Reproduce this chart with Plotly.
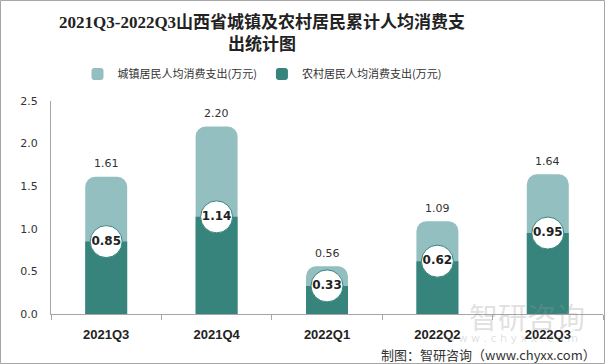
import plotly.graph_objects as go

categories = ["2021Q3", "2021Q4", "2022Q1", "2022Q2", "2022Q3"]
urban = [1.61, 2.20, 0.56, 1.09, 1.64]
rural = [0.85, 1.14, 0.33, 0.62, 0.95]
y_ticks = [0.0, 0.5, 1.0, 1.5, 2.0, 2.5]

LIGHT = "#93bfc0"
DARK = "#37847d"
TXT = "#333333"

L, R, T, B = 51, 2, 101, 50
PW, PH = 605 - L - R, 364 - T - B  # plot area size in px


def px(x):
    return (x - L) / PW


def py(y):
    return (364 - B - y) / PH


fig = go.Figure()
fig.add_trace(go.Bar(
    x=categories, y=urban, name="城镇居民人均消费支出(万元)",
    marker=dict(color=LIGHT, line=dict(width=0)), width=0.38,
))
fig.add_trace(go.Bar(
    x=categories, y=rural, name="农村居民人均消费支出(万元)",
    marker=dict(color=DARK, line=dict(width=0)), width=0.38,
))
fig.add_trace(go.Scatter(
    x=categories, y=rural, mode="markers+text",
    text=[f"{v:.2f}" for v in rural], textposition="middle center",
    textfont=dict(size=12, color="#222222", family="DejaVu Sans, Noto Sans CJK SC", weight="bold"),
    marker=dict(size=32, color="white", line=dict(color=DARK, width=1)),
    showlegend=False, hoverinfo="skip", cliponaxis=False,
))

annotations = []
for c, v in zip(categories, urban):
    annotations.append(dict(
        x=c, y=v, text=f"{v:.2f}", showarrow=False, yshift=13,
        font=dict(size=11, color=TXT, family="DejaVu Sans, Noto Sans CJK SC"),
    ))

# title
annotations.append(dict(
    xref="paper", yref="paper", x=px(262), y=py(33),
    xanchor="center", yanchor="middle", showarrow=False,
    text="2021Q3-2022Q3山西省城镇及农村居民累计人均消费支<br>出统计图",
    font=dict(size=17, color="#222222", family="Liberation Serif, Noto Sans CJK SC", weight="bold"),
))

annotations.append(dict(
    xref="paper", yref="paper", x=px(598), y=py(354),
    xanchor="right", yanchor="middle", showarrow=False,
    text="制图：智研咨询（www.chyxx.com）",
    font=dict(size=13, color=TXT, family="Noto Sans CJK SC"),
))
annotations.append(dict(
    xref="paper", yref="paper", x=px(527), y=py(316),
    xanchor="center", yanchor="middle", showarrow=False,
    text="智研咨询",
    font=dict(size=29, color="rgba(150,150,150,0.3)", family="Noto Sans CJK SC"),
))
annotations.append(dict(
    xref="paper", yref="paper", x=px(512), y=py(338),
    xanchor="center", yanchor="middle", showarrow=False,
    text="w w w . c h y x x . c o m",
    font=dict(size=11, color="rgba(150,150,150,0.3)", family="DejaVu Sans"),
))

fig.update_layout(
    width=605, height=364,
    margin=dict(l=L, r=R, t=T, b=B),
    paper_bgcolor="white", plot_bgcolor="white",
    barmode="overlay", barcornerradius=10,
    legend=dict(
        orientation="h", x=px(262), xanchor="center",
        y=py(74), yanchor="middle",
        font=dict(size=11, color=TXT, family="Noto Sans CJK SC"),
        itemwidth=30, tracegroupgap=0,
    ),
    xaxis=dict(
        type="category", showline=True, linecolor="#a6a6a6", linewidth=1,
        ticks="outside", tickson="boundaries", ticklen=5, tickcolor="#a6a6a6",
        tickfont=dict(size=13, color="#222222", family="Liberation Sans", weight="bold"),
        ticklabelstandoff=8,
        showgrid=False, zeroline=False,
    ),
    yaxis=dict(
        range=[0, 2.5], tickvals=y_ticks, ticktext=[f"{t:.1f}" for t in y_ticks],
        showline=True, linecolor="#a6a6a6", linewidth=1, showgrid=False, zeroline=False,
        ticks="", ticklabelstandoff=10,
        tickfont=dict(size=11, color=TXT, family="DejaVu Sans"),
    ),
    annotations=annotations,
    shapes=[dict(
        type="rect", xref="paper", yref="paper",
        x0=px(0.5), x1=px(604.5),
        y0=py(363.5), y1=py(0.5),
        line=dict(color="#a6a6a6", width=1), fillcolor="rgba(0,0,0,0)", layer="below",
    )],
)

fig.write_html(
    "out.html",
    config={"displayModeBar": False},
    post_script="document.body.style.margin='0';document.body.style.overflow='hidden';",
)
